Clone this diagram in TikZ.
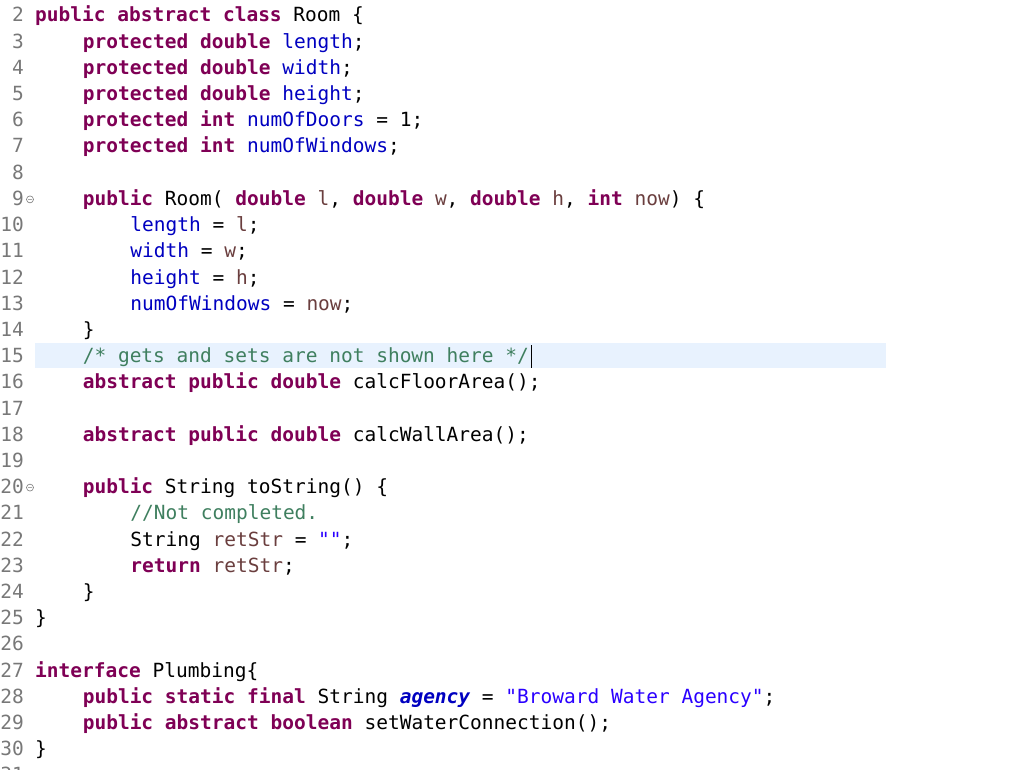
\documentclass[tikz,border=0pt]{standalone}
\usepackage{fontspec}
\setmonofont{DejaVu Sans Mono}
\definecolor{kw}{HTML}{7F0055}
\definecolor{fld}{HTML}{0000C0}
\definecolor{loc}{HTML}{6A3E3E}
\definecolor{cmt}{HTML}{3F7F5F}
\definecolor{str}{HTML}{2A00FF}
\definecolor{lnum}{HTML}{787878}
\definecolor{hl}{HTML}{E8F2FE}
\newcommand\kw[1]{{\color{kw}\bfseries #1}}
\newcommand\fl[1]{{\color{fld}#1}}
\newcommand\lc[1]{{\color{loc}#1}}
\newcommand\cm[1]{{\color{cmt}#1}}
\newcommand\st[1]{{\color{str}#1}}
\tikzset{code/.style={anchor=base west,inner sep=0pt,font=\ttfamily\fontsize{19.5}{22}\selectfont},
 num/.style={anchor=base east,inner sep=0pt,text=lnum,font=\ttfamily\fontsize{19.5}{22}\selectfont}}
\begin{document}
\begin{tikzpicture}[x=1pt,y=-1pt]
\useasboundingbox (0,0) rectangle (1024,770);
\fill[hl] (35,343) rectangle (886,368);
\foreach \n in {2,...,31}{\node[num] (n\n) at (24,{22+(\n-2)*26.2}) {\n};}
\foreach \n in {9,20}{\draw[lnum,line width=0.6pt] (30,{16+(\n-2)*26.2}) circle (3.5) (28,{16+(\n-2)*26.2}) -- (32,{16+(\n-2)*26.2});}
\def\L#1#2#3{\node[code] (l#1) at ({35+#2*47.6},{22+(#1-2)*26.2}) {#3};}
\L{2}{0}{\kw{public} \kw{abstract} \kw{class} Room \{}
\L{3}{1}{\kw{protected} \kw{double} \fl{length};}
\L{4}{1}{\kw{protected} \kw{double} \fl{width};}
\L{5}{1}{\kw{protected} \kw{double} \fl{height};}
\L{6}{1}{\kw{protected} \kw{int} \fl{numOfDoors} = 1;}
\L{7}{1}{\kw{protected} \kw{int} \fl{numOfWindows};}
\L{9}{1}{\kw{public} Room( \kw{double} \lc{l}, \kw{double} \lc{w}, \kw{double} \lc{h}, \kw{int} \lc{now}) \{}
\L{10}{2}{\fl{length} = \lc{l};}
\L{11}{2}{\fl{width} = \lc{w};}
\L{12}{2}{\fl{height} = \lc{h};}
\L{13}{2}{\fl{numOfWindows} = \lc{now};}
\L{14}{1}{\}}
\L{15}{1}{\cm{/* gets and sets are not shown here */}}
\coordinate (cur) at ([xshift=2pt]l15.base east);
\draw[line width=1pt] (cur) ++(0,5) -- ++(0,-23);
\L{16}{1}{\kw{abstract} \kw{public} \kw{double} calcFloorArea();}
\L{18}{1}{\kw{abstract} \kw{public} \kw{double} calcWallArea();}
\L{20}{1}{\kw{public} String toString() \{}
\L{21}{2}{\cm{//Not completed.}}
\L{22}{2}{String \lc{retStr} = \st{""};}
\L{23}{2}{\kw{return} \lc{retStr};}
\L{24}{1}{\}}
\L{25}{0}{\}}
\L{27}{0}{\kw{interface} Plumbing\{}
\L{28}{1}{\kw{public} \kw{static} \kw{final} String {\color{fld}\bfseries\itshape agency} = \st{"Broward Water Agency"};}
\L{29}{1}{\kw{public} \kw{abstract} \kw{boolean} setWaterConnection();}
\L{30}{0}{\}}
\end{tikzpicture}
\end{document}
